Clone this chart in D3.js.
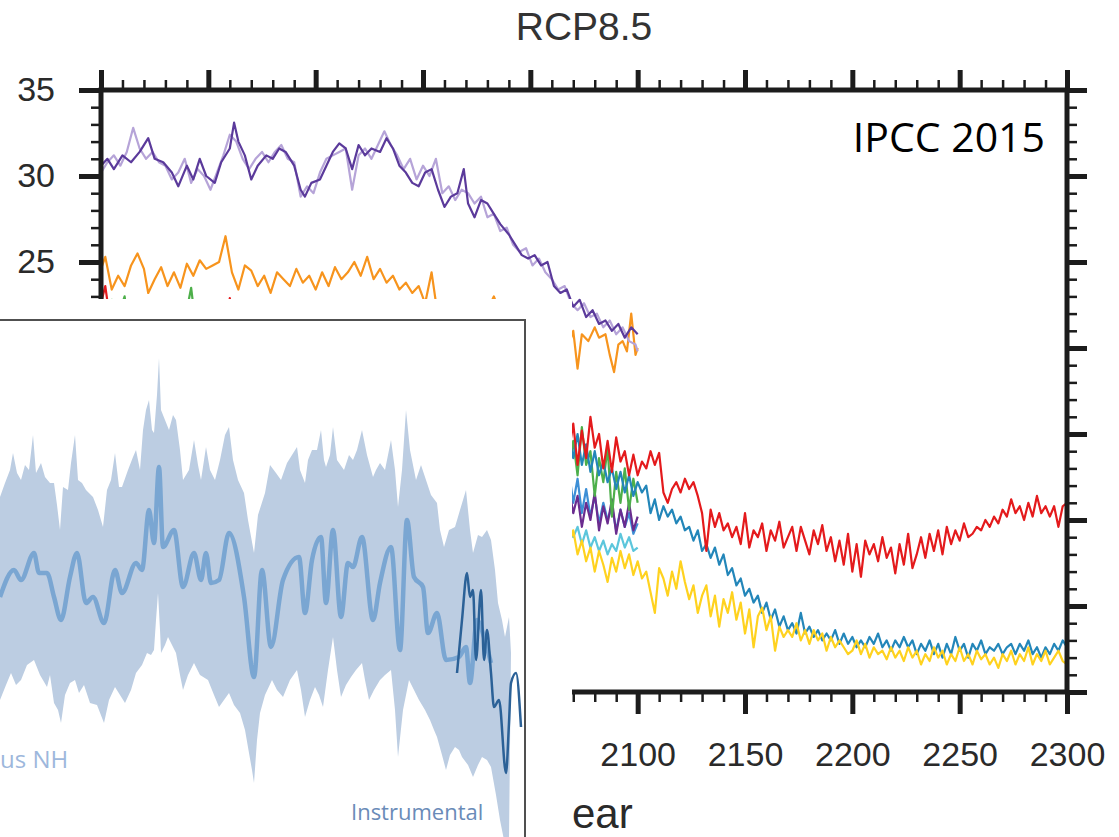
<!DOCTYPE html>
<html>
<head>
<meta charset="utf-8">
<script src="https://cdn.jsdelivr.net/npm/d3@7"></script>
<style>
  body { margin: 0; background: #fff; }
  svg { display: block; }
</style>
</head>
<body>
<svg width="1119" height="837"></svg>
<script>
// ---- main panel: AMOC strength, RCP8.5 (year, Sv) ----
var xTicks = [1850, 1900, 1950, 2000, 2050, 2100, 2150, 2200, 2250, 2300];
var yTicks = [0, 5, 10, 15, 20, 25, 30, 35];

var darkPurple = [[1850,30.6],[1853,31.0],[1856,30.4],[1860,31.2],[1864,30.8],[1868,31.4],[1872,32.2],[1875,31.0],[1879,30.8],[1883,30.2],[1886,29.4],[1890,30.6],[1893,29.8],[1896,31.0],[1899,30.0],[1903,29.6],[1906,30.8],[1910,31.6],[1912,33.1],[1914,32.0],[1917,31.2],[1920,29.8],[1923,30.6],[1927,31.2],[1930,31.0],[1933,31.6],[1936,31.4],[1940,30.6],[1943,29.2],[1945,28.8],[1948,29.6],[1952,29.8],[1955,30.6],[1958,31.4],[1961,31.9],[1964,31.6],[1967,30.4],[1970,31.8],[1973,31.2],[1976,31.6],[1980,31.4],[1983,32.2],[1986,31.6],[1989,30.6],[1992,30.2],[1995,29.6],[1998,29.4],[2001,30.2],[2004,30.4],[2007,29.2],[2010,28.2],[2013,28.8],[2016,29.0],[2019,30.4],[2021,28.4],[2024,27.6],[2027,28.6],[2030,28.4],[2033,27.8],[2036,27.2],[2040,26.6],[2043,26.0],[2046,25.4],[2049,25.2],[2052,25.4],[2055,24.8],[2058,25.0],[2061,23.6],[2064,23.2],[2067,23.4],[2070,22.4],[2073,22.8],[2076,21.8],[2079,22.2],[2082,21.4],[2085,21.6],[2088,21.0],[2091,21.4],[2094,20.6],[2097,21.2],[2100,20.8]];

var lightPurple = [[1850,30.2],[1853,30.8],[1856,31.2],[1859,30.6],[1862,31.4],[1865,32.8],[1868,31.6],[1871,31.0],[1874,31.4],[1877,30.8],[1880,30.6],[1883,29.8],[1886,30.2],[1889,31.0],[1892,29.6],[1895,30.4],[1898,30.0],[1901,29.2],[1904,30.2],[1907,31.2],[1910,32.4],[1913,32.0],[1916,31.0],[1919,30.4],[1922,31.0],[1925,31.4],[1928,30.8],[1931,31.4],[1934,31.8],[1937,31.0],[1940,30.8],[1943,28.8],[1946,29.4],[1949,29.0],[1952,30.2],[1955,31.0],[1958,31.2],[1961,31.4],[1964,31.6],[1967,29.2],[1970,31.2],[1973,31.6],[1976,31.0],[1979,31.8],[1982,32.6],[1985,31.8],[1988,31.2],[1991,30.4],[1994,31.0],[1997,29.8],[2000,30.6],[2003,30.0],[2006,31.0],[2009,29.0],[2012,29.4],[2015,28.6],[2018,29.2],[2021,29.0],[2024,28.4],[2027,28.8],[2030,27.6],[2033,27.8],[2036,26.8],[2039,27.0],[2042,26.0],[2045,25.6],[2048,25.8],[2051,24.8],[2054,25.2],[2057,24.4],[2060,24.0],[2063,23.4],[2066,23.6],[2069,22.6],[2072,22.2],[2075,22.6],[2078,21.8],[2081,22.0],[2084,21.2],[2087,21.6],[2090,20.8],[2093,21.2],[2096,20.4],[2099,20.2],[2100,19.8]];

var orange = [[1850,24.6],[1852,25.3],[1855,23.4],[1858,24.2],[1861,23.6],[1864,24.8],[1867,25.5],[1870,24.6],[1872,23.2],[1875,24.0],[1878,24.7],[1881,23.6],[1884,24.4],[1887,23.5],[1890,24.9],[1893,24.2],[1896,25.1],[1899,24.6],[1902,24.8],[1905,25.0],[1908,26.5],[1911,24.4],[1914,23.4],[1917,24.8],[1920,24.5],[1923,23.6],[1926,24.2],[1929,23.2],[1932,24.4],[1935,24.0],[1938,23.6],[1941,24.6],[1944,23.8],[1947,24.2],[1950,23.4],[1953,24.4],[1956,23.6],[1959,24.7],[1962,24.0],[1965,24.4],[1968,25.0],[1971,24.2],[1974,25.3],[1977,24.0],[1980,24.6],[1983,23.8],[1986,24.2],[1989,23.4],[1992,23.8],[1995,23.2],[1998,23.6],[2001,22.6],[2004,24.4],[2007,21.8],[2010,22.2],[2015,21.4],[2020,22.0],[2025,21.2],[2030,22.2],[2033,23.0],[2036,22.0],[2040,21.0],[2045,21.6],[2050,20.8],[2055,21.4],[2060,20.6],[2065,21.2],[2068,20.2],[2070,21.0],[2072,18.8],[2074,20.8],[2077,20.4],[2080,21.2],[2082,20.6],[2085,20.8],[2087,19.6],[2089,18.6],[2091,20.2],[2093,20.4],[2095,19.8],[2097,22.0],[2099,19.6],[2100,20.0]];

var red = [[1850,22.6],[1852,23.6],[1854,21.8],[1870,20.6],[1890,21.0],[1908,21.4],[1910,22.9],[1912,21.2],[1950,20.4],[2000,19.2],[2040,17.4],[2066,15.0],[2068,14.0],[2070,15.6],[2072,13.2],[2074,15.2],[2076,13.6],[2078,16.0],[2080,14.2],[2082,15.0],[2084,13.0],[2086,14.6],[2088,12.8],[2090,14.8],[2092,13.4],[2094,14.0],[2096,12.6],[2098,13.8],[2100,12.6],[2102,13.4],[2104,13.0],[2106,14.0],[2108,13.2],[2110,13.9],[2112,11.6],[2114,11.0],[2116,11.8],[2118,12.2],[2120,11.6],[2122,12.4],[2124,11.8],[2126,12.2],[2128,11.4],[2130,10.4],[2132,8.2],[2134,10.6],[2136,9.6],[2138,10.4],[2140,9.4],[2142,9.8],[2144,9.0],[2146,9.6],[2148,8.6],[2150,10.4],[2152,8.4],[2154,9.4],[2156,9.0],[2158,9.8],[2160,8.2],[2162,9.4],[2164,8.8],[2166,9.9],[2168,8.4],[2170,9.0],[2172,9.6],[2174,8.2],[2176,9.6],[2178,8.8],[2180,8.0],[2182,9.4],[2184,8.6],[2186,9.7],[2188,8.2],[2190,9.0],[2192,7.6],[2194,8.8],[2196,7.4],[2198,9.2],[2200,7.0],[2202,8.6],[2204,6.7],[2206,8.8],[2208,8.0],[2210,8.6],[2212,7.6],[2214,9.0],[2216,7.8],[2218,8.4],[2220,6.9],[2222,8.6],[2224,7.4],[2226,9.2],[2228,7.2],[2230,8.0],[2232,9.0],[2234,7.8],[2236,9.2],[2238,8.2],[2240,9.4],[2242,8.0],[2244,9.6],[2246,8.6],[2248,9.4],[2250,8.8],[2252,9.8],[2254,9.0],[2256,9.2],[2258,9.6],[2260,9.4],[2262,10.0],[2264,9.6],[2266,10.2],[2268,9.8],[2270,10.6],[2272,10.2],[2274,11.2],[2276,10.4],[2278,10.8],[2280,10.0],[2282,11.0],[2284,10.2],[2286,11.4],[2288,10.4],[2290,10.8],[2292,10.2],[2294,10.8],[2296,9.6],[2298,10.8],[2300,11.0]];

var teal = [[2066,14.2],[2068,14.8],[2070,13.6],[2072,15.0],[2074,13.2],[2076,14.4],[2078,12.8],[2080,14.0],[2082,12.6],[2084,13.4],[2086,12.2],[2088,13.0],[2090,11.8],[2092,12.8],[2094,11.6],[2096,12.6],[2098,11.4],[2100,12.2],[2102,11.6],[2104,12.0],[2106,10.4],[2108,11.2],[2110,10.0],[2112,10.8],[2114,10.2],[2116,10.6],[2118,9.8],[2120,10.2],[2122,9.4],[2124,9.6],[2126,8.8],[2128,9.4],[2130,8.2],[2132,8.6],[2134,7.8],[2136,8.4],[2138,7.4],[2140,8.0],[2142,6.8],[2144,7.2],[2146,6.2],[2148,6.6],[2150,5.6],[2152,6.0],[2154,5.2],[2156,5.6],[2158,4.6],[2160,5.2],[2162,4.2],[2164,4.8],[2166,3.8],[2168,4.4],[2170,3.6],[2172,4.0],[2174,3.4],[2176,4.6],[2178,3.4],[2180,3.8],[2182,3.2],[2184,3.6],[2186,3.0],[2188,3.4],[2190,3.0],[2192,3.6],[2194,2.8],[2196,3.4],[2198,2.8],[2200,3.2],[2202,2.6],[2204,3.0],[2206,2.6],[2208,3.2],[2210,2.8],[2212,3.4],[2214,2.6],[2216,3.0],[2218,2.4],[2220,3.0],[2222,2.6],[2224,3.2],[2226,2.6],[2228,3.0],[2230,2.2],[2232,2.8],[2234,2.4],[2236,3.0],[2238,2.2],[2240,2.8],[2242,2.0],[2244,2.8],[2246,2.2],[2248,3.2],[2250,2.4],[2252,2.8],[2254,2.0],[2256,2.8],[2258,2.4],[2260,3.0],[2262,2.2],[2264,2.6],[2266,2.4],[2268,2.8],[2270,2.2],[2272,2.6],[2274,2.8],[2276,2.2],[2278,2.8],[2280,2.4],[2282,3.0],[2284,2.2],[2286,2.6],[2288,2.0],[2290,2.6],[2292,2.2],[2294,2.8],[2296,2.4],[2298,3.0],[2300,2.6]];

var yellow = [[2066,9.0],[2068,8.6],[2070,9.4],[2072,8.0],[2074,8.8],[2076,7.6],[2078,8.4],[2080,7.0],[2082,8.2],[2084,7.4],[2086,6.4],[2088,7.8],[2090,7.0],[2092,8.2],[2094,7.2],[2096,8.0],[2098,6.8],[2100,7.6],[2102,6.6],[2104,7.0],[2106,5.8],[2108,4.6],[2110,7.2],[2112,6.6],[2114,5.6],[2116,7.0],[2118,6.0],[2120,7.6],[2122,6.4],[2124,5.4],[2126,6.2],[2128,4.6],[2130,5.6],[2132,6.2],[2134,4.4],[2136,5.6],[2138,3.8],[2140,5.4],[2142,4.6],[2144,5.8],[2146,4.2],[2148,5.2],[2150,3.4],[2152,4.8],[2154,2.6],[2156,4.4],[2158,4.9],[2160,3.6],[2162,4.4],[2164,2.4],[2166,3.8],[2168,3.2],[2170,3.6],[2172,3.2],[2174,4.0],[2176,3.0],[2178,3.6],[2180,2.8],[2182,3.6],[2184,3.0],[2186,3.4],[2188,2.4],[2190,3.2],[2192,2.6],[2194,3.0],[2196,2.6],[2198,2.2],[2200,2.4],[2202,3.0],[2204,2.2],[2206,2.8],[2208,2.0],[2210,2.6],[2212,2.2],[2214,2.4],[2216,1.9],[2218,2.6],[2220,2.0],[2222,2.4],[2224,1.8],[2226,2.6],[2228,2.0],[2230,2.4],[2232,1.6],[2234,2.2],[2236,1.8],[2238,2.6],[2240,2.0],[2242,2.4],[2244,1.6],[2246,2.2],[2248,1.8],[2250,2.6],[2252,1.8],[2254,2.2],[2256,1.6],[2258,2.4],[2260,1.9],[2262,2.2],[2264,1.6],[2266,2.0],[2268,1.4],[2270,2.2],[2272,1.8],[2274,2.4],[2276,1.6],[2278,2.2],[2280,1.8],[2282,2.6],[2284,1.6],[2286,2.2],[2288,1.8],[2290,2.4],[2292,1.6],[2294,2.0],[2296,2.4],[2298,1.8],[2300,1.6]];

var green = [[1850,21.2],[1855,22.8],[1857,21.4],[1861,23.0],[1863,21.0],[1889,21.6],[1892,23.5],[1894,21.4],[1950,20.2],[2030,17.0],[2066,13.6],[2068,13.0],[2070,14.6],[2072,12.6],[2074,15.4],[2076,13.2],[2078,14.0],[2080,11.4],[2082,13.6],[2084,12.2],[2086,14.2],[2088,10.2],[2090,12.8],[2092,11.0],[2094,13.0],[2096,10.6],[2098,12.4],[2100,11.0]];
var violet = [[2066,11.0],[2068,11.8],[2070,10.4],[2072,11.4],[2074,9.6],[2076,11.0],[2078,10.0],[2080,11.6],[2082,9.4],[2084,10.8],[2086,9.8],[2088,11.2],[2090,9.2],[2092,10.6],[2094,9.6],[2096,11.0],[2098,9.4],[2100,10.2]];
var blue = [[2066,12.0],[2068,12.8],[2070,11.0],[2072,12.4],[2074,10.4],[2076,11.8],[2078,10.2],[2080,11.4],[2082,9.8],[2084,11.0],[2086,10.0],[2088,10.8],[2090,9.4],[2092,10.6],[2094,9.6],[2096,10.4],[2098,9.2],[2100,9.8]];
var cyan = [[2066,9.4],[2068,9.8],[2070,9.0],[2072,9.6],[2074,8.6],[2076,9.4],[2078,8.4],[2080,9.0],[2082,8.2],[2084,8.8],[2086,8.0],[2088,8.6],[2090,8.2],[2092,9.2],[2094,8.4],[2096,9.0],[2098,8.2],[2100,8.4]];

// ---- inset: reconstruction (year, index) ----
var insetUpper = [[1000,1.66],[1010,1.94],[1020,2.2],[1026,2.54],[1034,2.14],[1042,2.0],[1050,2.3],[1058,2.2],[1066,2.9],[1072,2.14],[1082,2.34],[1090,2.06],[1100,1.94],[1108,1.94],[1114,1.5],[1120,1.0],[1126,1.86],[1136,1.8],[1142,2.34],[1150,2.9],[1156,2.0],[1164,1.94],[1172,1.8],[1186,1.66],[1196,1.4],[1206,1.06],[1214,1.8],[1222,2.0],[1230,2.54],[1238,1.86],[1244,1.86],[1256,2.2],[1266,2.46],[1272,2.6],[1280,2.2],[1286,3.0],[1292,3.4],[1298,3.6],[1304,3.0],[1308,2.94],[1314,3.7],[1318,4.44],[1322,3.4],[1330,3.2],[1338,3.0],[1346,3.3],[1352,3.2],[1360,2.6],[1366,2.0],[1378,2.2],[1388,2.8],[1396,2.3],[1402,2.0],[1412,2.66],[1420,2.2],[1430,2.0],[1440,2.4],[1450,2.9],[1458,3.06],[1466,2.4],[1476,2.0],[1488,1.74],[1496,1.2],[1508,0.54],[1516,1.3],[1530,1.74],[1540,2.3],[1552,2.14],[1562,2.0],[1574,2.34],[1584,2.5],[1594,2.66],[1600,2.2],[1610,1.94],[1616,2.4],[1624,2.6],[1634,2.6],[1642,3.0],[1648,2.4],[1652,2.26],[1660,2.5],[1666,3.06],[1674,2.4],[1688,2.2],[1698,2.5],[1706,2.4],[1714,2.6],[1724,3.0],[1734,2.5],[1746,2.06],[1752,2.2],[1760,2.34],[1770,2.2],[1782,2.8],[1790,2.2],[1796,1.46],[1804,2.2],[1812,3.4],[1820,2.6],[1832,2.0],[1842,2.3],[1854,1.94],[1862,1.7],[1874,1.54],[1880,1.0],[1888,0.66],[1898,1.0],[1910,1.06],[1920,1.4],[1932,1.8],[1940,1.0],[1946,0.54],[1956,0.9],[1964,0.86],[1974,1.0],[1982,0.8],[1990,0.2],[1996,-0.46],[2004,-0.8],[2010,-1.14],[2018,-0.74],[2022,-1.46]];
var insetLower = [[1000,-2.4],[1012,-2.1],[1022,-1.86],[1032,-2.1],[1042,-2.0],[1054,-1.7],[1068,-1.6],[1080,-1.9],[1094,-2.14],[1100,-1.9],[1108,-2.46],[1116,-2.6],[1122,-2.86],[1130,-2.3],[1140,-2.06],[1150,-2.0],[1158,-2.26],[1168,-2.1],[1180,-2.46],[1194,-2.5],[1208,-2.86],[1218,-2.4],[1230,-2.14],[1240,-2.3],[1250,-2.46],[1262,-2.2],[1272,-1.86],[1284,-1.7],[1294,-1.46],[1302,-1.5],[1308,-1.4],[1312,-0.8],[1316,-0.26],[1320,-1.0],[1322,-1.46],[1330,-1.3],[1336,-1.14],[1344,-1.3],[1352,-1.46],[1360,-1.9],[1366,-2.2],[1376,-1.9],[1388,-1.66],[1400,-1.9],[1416,-2.0],[1428,-2.3],[1438,-2.54],[1448,-2.4],[1458,-2.26],[1468,-2.5],[1480,-2.66],[1490,-3.0],[1498,-3.46],[1504,-3.8],[1508,-4.06],[1514,-3.2],[1520,-2.66],[1530,-2.3],[1544,-2.0],[1554,-2.2],[1566,-2.34],[1580,-2.0],[1594,-1.8],[1602,-2.2],[1610,-2.74],[1620,-2.4],[1630,-2.14],[1638,-2.3],[1646,-2.54],[1656,-1.8],[1666,-1.14],[1674,-1.8],[1682,-2.34],[1692,-2.1],[1702,-1.94],[1712,-1.8],[1724,-1.66],[1730,-2.0],[1738,-2.4],[1748,-2.2],[1760,-2.0],[1770,-1.9],[1782,-1.8],[1790,-2.6],[1796,-3.54],[1806,-2.6],[1818,-2.0],[1828,-2.2],[1838,-2.4],[1850,-2.6],[1860,-2.8],[1868,-3.0],[1874,-3.14],[1884,-3.5],[1892,-3.8],[1900,-3.5],[1910,-3.34],[1918,-3.4],[1924,-3.54],[1936,-3.7],[1946,-3.94],[1956,-3.7],[1964,-3.54],[1974,-3.6],[1982,-3.74],[1992,-4.3],[2000,-4.8],[2010,-5.3],[2018,-5.2],[2022,-1.46]];
var insetMean = [[1000,-0.34],[1028,0.2],[1042,0],[1068,0.54],[1078,0.14],[1094,0.14],[1108,-0.34],[1122,-0.8],[1140,0.06],[1154,0.54],[1172,-0.46],[1186,-0.34],[1208,-0.86],[1230,0.2],[1244,-0.26],[1272,0.34],[1284,0.2],[1298,1.4],[1308,0.74],[1318,2.26],[1326,0.66],[1348,1.0],[1366,-0.14],[1388,0.54],[1402,0],[1412,0.54],[1422,-0.06],[1438,0],[1458,0.94],[1488,-0.34],[1508,-1.94],[1524,0.2],[1542,-1.34],[1566,0],[1598,0.46],[1610,-0.66],[1624,0.4],[1642,0.86],[1652,-0.46],[1666,1.0],[1682,-0.74],[1696,0.34],[1706,0.26],[1724,0.86],[1746,-0.8],[1760,-0.06],[1782,0.66],[1800,-1.4],[1814,1.2],[1828,0.06],[1846,-0.14],[1856,-1.06],[1874,-0.66],[1892,-1.6],[1918,-1.54],[1932,-1.34],[1940,-2.06],[1954,-0.8],[1968,-1.14],[1982,-1.66]];
var insetInstrumental = [[1914,-1.86],[1924,-0.8],[1934,0.14],[1940,-0.34],[1946,-0.2],[1952,-1.6],[1962,-0.2],[1968,-1.6],[1974,-1.0],[1982,-1.86],[1988,-2.54],[1998,-2.4],[2012,-3.86],[2018,-2.86],[2022,-2.06],[2032,-1.86],[2042,-2.94]];

var svg = d3.select('svg');
var axisColor = '#1c1c1c';
var labelFont = '"Liberation Sans", Arial, Helvetica, sans-serif';

var x = d3.scaleLinear().domain([1850, 2300]).range([101, 1067]);
var y = d3.scaleLinear().domain([0, 35]).range([692, 90]);
var line = d3.line().x(d => x(d[0])).y(d => y(d[1]));

svg.append('clipPath').attr('id', 'plotClip')
  .append('rect').attr('x', 101).attr('y', 90).attr('width', 966).attr('height', 602);

// draw order: back to front
var series = [
  { data: cyan, color: '#5cc6dc' },
  { data: blue, color: '#3d8fd6' },
  { data: violet, color: '#6a2c8f' },
  { data: green, color: '#4daf4a' },
  { data: teal, color: '#2386b9' },
  { data: yellow, color: '#ffd21f' },
  { data: red, color: '#e41a1c' },
  { data: orange, color: '#f7941d' },
  { data: lightPurple, color: '#b6a4d8' },
  { data: darkPurple, color: '#5b3a9b' }
];

svg.append('g').attr('clip-path', 'url(#plotClip)')
  .selectAll('path').data(series).join('path')
  .attr('d', d => line(d.data))
  .attr('fill', 'none')
  .attr('stroke', d => d.color)
  .attr('stroke-width', 2.2)
  .attr('stroke-linejoin', 'round');

// axes: major + minor ticks on all four sides, pointing outward
var minorX = d3.range(1850, 2301, 10).filter(v => v % 50 !== 0);
var minorY = d3.range(0, 36, 1).filter(v => v % 5 !== 0);

function addAxis(axis, transform, width) {
  var g = svg.append('g').attr('transform', transform).call(axis);
  g.select('.domain').remove();
  g.selectAll('.tick line').attr('stroke', axisColor).attr('stroke-width', width);
  g.selectAll('.tick text').attr('fill', '#2a2a2a').attr('font-size', 34).attr('font-family', labelFont);
  return g;
}

addAxis(d3.axisTop(x).tickValues(minorX).tickSize(10).tickFormat(''), 'translate(0,90)', 2.5);
addAxis(d3.axisTop(x).tickValues(xTicks).tickSize(20).tickFormat(''), 'translate(0,90)', 5);
addAxis(d3.axisBottom(x).tickValues(minorX).tickSize(10).tickFormat(''), 'translate(0,692)', 2.5);
addAxis(d3.axisBottom(x).tickValues(xTicks).tickSize(22).tickPadding(28).tickFormat(d3.format('d')), 'translate(0,692)', 5);
addAxis(d3.axisLeft(y).tickValues(minorY).tickSize(10).tickFormat(''), 'translate(101,0)', 2.5);
addAxis(d3.axisLeft(y).tickValues(yTicks).tickSize(22).tickPadding(24).tickFormat(d3.format('d')), 'translate(101,0)', 5);
addAxis(d3.axisRight(y).tickValues(minorY).tickSize(10).tickFormat(''), 'translate(1067,0)', 2.5);
addAxis(d3.axisRight(y).tickValues(yTicks).tickSize(20).tickFormat(''), 'translate(1067,0)', 5);

svg.append('rect')
  .attr('x', 101).attr('y', 90).attr('width', 966).attr('height', 602)
  .attr('fill', 'none').attr('stroke', axisColor).attr('stroke-width', 5);

svg.append('text')
  .attr('x', 584).attr('y', 40)
  .attr('text-anchor', 'middle')
  .attr('font-family', labelFont).attr('font-size', 39).attr('fill', '#333')
  .text('RCP8.5');

svg.append('text')
  .attr('x', 1045).attr('y', 152)
  .attr('text-anchor', 'end')
  .attr('font-family', '"Open Sans", Lato, sans-serif').attr('font-size', 41).attr('fill', '#000')
  .text('IPCC 2015');

// ---- pasted inset covering the lower left ----
svg.append('rect').attr('x', 0).attr('y', 299).attr('width', 572).attr('height', 538).attr('fill', '#fff');

// the visible end of the x-axis title
svg.append('text')
  .attr('x', 572).attr('y', 828)
  .attr('font-family', labelFont).attr('font-size', 42).attr('fill', '#2a2a2a')
  .text('ear');

var ix = d3.scaleLinear().domain([1000, 2040]).range([0, 520]);
var iy = d3.scaleLinear().domain([-3, 3]).range([730, 430]);
var iline = d3.line().x(d => ix(d[0])).y(d => iy(d[1]));
var ismooth = d3.line().x(d => ix(d[0])).y(d => iy(d[1])).curve(d3.curveMonotoneX);

svg.append('clipPath').attr('id', 'insetClip')
  .append('rect').attr('x', 0).attr('y', 321).attr('width', 524).attr('height', 516);

var inset = svg.append('g').attr('clip-path', 'url(#insetClip)');

inset.append('path')
  .attr('d', iline(insetUpper.concat(insetLower.slice().reverse())) + 'Z')
  .attr('fill', '#bccde2');

inset.append('path')
  .attr('d', ismooth(insetMean))
  .attr('fill', 'none').attr('stroke', '#7aa6d2').attr('stroke-width', 4.5)
  .attr('stroke-linejoin', 'round');

inset.append('path')
  .attr('d', ismooth(insetInstrumental))
  .attr('fill', 'none').attr('stroke', '#2b6197').attr('stroke-width', 2.5)
  .attr('stroke-linejoin', 'round');

inset.append('text')
  .attr('x', 0).attr('y', 768)
  .attr('font-family', '"Open Sans", sans-serif').attr('font-size', 24).attr('fill', '#9db7dc')
  .text('us NH');

inset.append('text')
  .attr('x', 351).attr('y', 820)
  .attr('font-family', '"Open Sans", sans-serif').attr('font-size', 22).attr('fill', '#6a8bb8')
  .text('Instrumental');

svg.append('path')
  .attr('d', 'M0,320H525V837')
  .attr('fill', 'none').attr('stroke', '#505050').attr('stroke-width', 2);
</script>
</body>
</html>
